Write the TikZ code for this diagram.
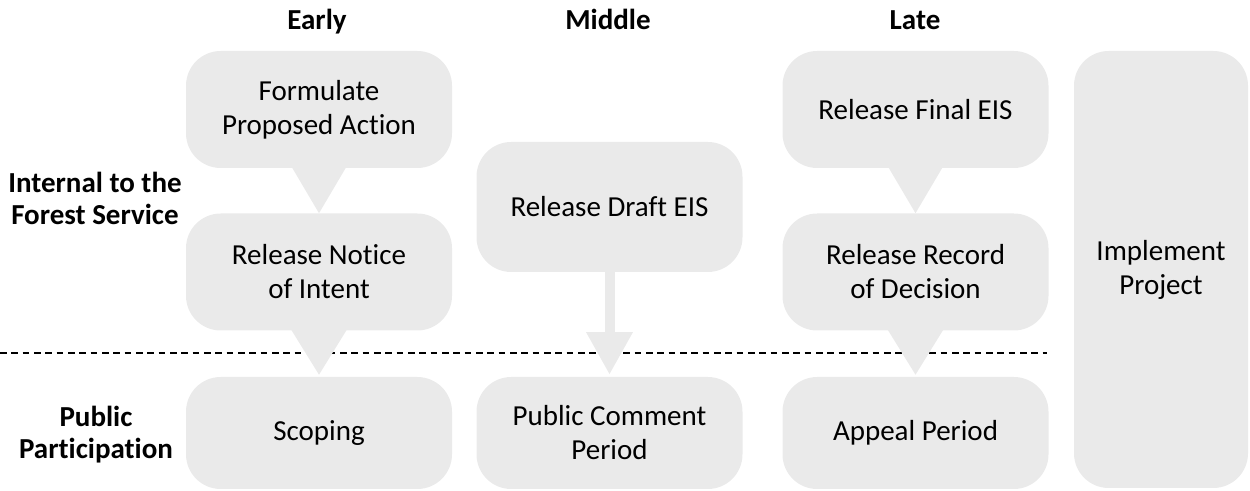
\documentclass[tikz,border=0pt]{standalone}
\usepackage{fontspec}
\setmainfont{Carlito}[Ligatures=NoCommon]
\usetikzlibrary{arrows.meta}
\definecolor{bubblegray}{RGB}{234,234,234}
\begin{document}
\begin{tikzpicture}[x=0.75pt,y=-0.75pt,
  bubble/.style={fill=bubblegray, rounded corners=26pt, inner sep=0pt,
    align=center, font=\fontsize{21.75}{25.5}\selectfont},
  colbox/.style={bubble, minimum width=199.5pt},
  tallbox/.style={colbox, minimum height=87.75pt},
  lowbox/.style={colbox, minimum height=84pt},
  pointer/.style={fill=bubblegray},
  flow/.style={draw=bubblegray, line width=7.5pt,
    -{Triangle[width=33pt,length=32pt]}},
  divider/.style={draw=black, line width=2.1pt, dash pattern=on 5pt off 3.5pt},
  head/.style={font=\bfseries\fontsize{21.75}{25.5}\selectfont, anchor=base},
  side/.style={font=\bfseries\fontsize{21.75}{24}\selectfont, align=center}
]
\useasboundingbox (0,0) rectangle (1250,491);

% phase headings
\node[head] (hEarly)  at (317,30) {Early};
\node[head] (hMiddle) at (608,30) {Middle};
\node[head] (hLate)   at (915,30) {Late};

% row headings
\node[side] (lInt) at (95,198) {Internal to the\\Forest Service};
\node[side] (lPub) at (96,435) {Public\\Participation};

% divider between internal steps and public participation
\coordinate (divL) at (0,353);
\coordinate (divR) at (1047,353);
\draw[divider] (divL) -- (divR);

% early column
\node[tallbox] (fpa) at (319,109.5) {Formulate\\Proposed Action};
\node[tallbox] (rni) at (319,272)   {Release Notice\\of Intent};
\node[lowbox]  (sco) at (319,433)   {Scoping};

% middle column
\node[colbox, minimum height=97.5pt] (rde) at (609.5,207) {Release Draft EIS};
\node[lowbox] (pcp) at (609.5,433) {Public Comment\\Period};

% late column
\node[tallbox] (rfe) at (915.5,109.5) {Release Final EIS};
\node[tallbox] (rrd) at (915.5,272)   {Release Record\\of Decision};
\node[lowbox]  (app) at (915.5,433)   {Appeal Period};

% implementation spans both rows
\node[bubble, minimum width=130.5pt, minimum height=327.75pt] (imp)
  at (1161,269.5) {Implement\\Project};

% callout pointers
\fill[pointer] ([xshift=-20.5pt,yshift=1pt]fpa.south) -- (rni.north)
  -- ([xshift=20.5pt,yshift=1pt]fpa.south) -- cycle;
\fill[pointer] ([xshift=-21pt,yshift=1pt]rni.south) -- ([yshift=1.5pt]sco.north)
  -- ([xshift=21pt,yshift=1pt]rni.south) -- cycle;
\fill[pointer] ([xshift=-20.5pt,yshift=1pt]rfe.south) -- (rrd.north)
  -- ([xshift=20.5pt,yshift=1pt]rfe.south) -- cycle;
\fill[pointer] ([xshift=-21pt,yshift=1pt]rrd.south) -- ([yshift=1.5pt]app.north)
  -- ([xshift=21pt,yshift=1pt]rrd.south) -- cycle;

% draft EIS goes out for public comment
\draw[flow] (rde.south) -- ([yshift=1.5pt]pcp.north);
\end{tikzpicture}
\end{document}
